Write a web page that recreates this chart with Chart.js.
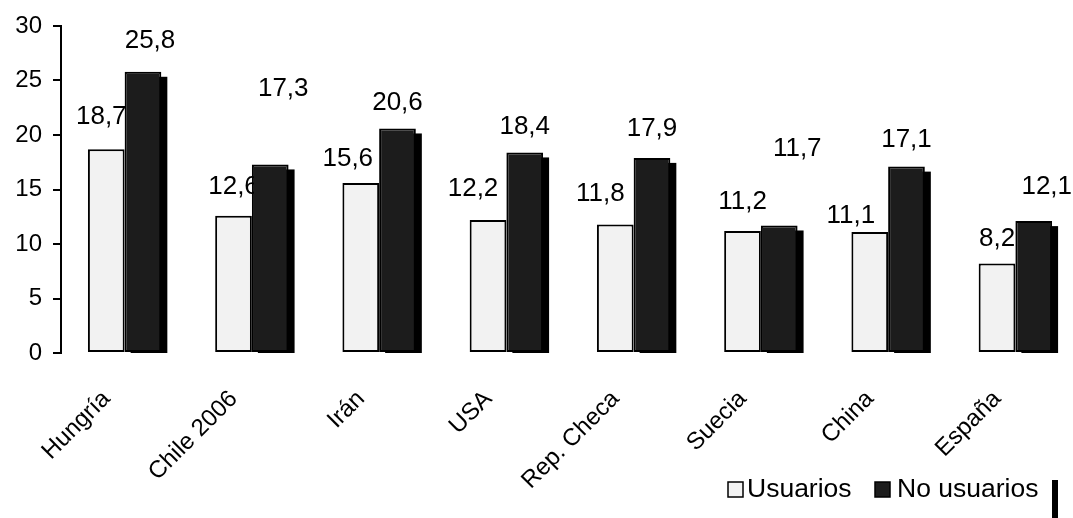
<!DOCTYPE html>
<html>
<head>
<meta charset="utf-8">
<script src="https://cdn.jsdelivr.net/npm/chart.js@4.4.1/dist/chart.umd.min.js"></script>
<style>
  html, body { margin: 0; padding: 0; background: #fff; overflow: hidden; }
  #wrap { width: 1080px; height: 518px; }
</style>
</head>
<body>
<div id="wrap"><canvas id="chart" width="1080" height="518"></canvas></div>
<script>
// data
const paises = ['Hungría', 'Chile 2006', 'Irán', 'USA', 'Rep. Checa', 'Suecia', 'China', 'España'];
const usuarios = [18.7, 12.6, 15.6, 12.2, 11.8, 11.2, 11.1, 8.2];
const noUsuarios = [25.8, 17.3, 20.6, 18.4, 17.9, 11.7, 17.1, 12.1];
const yMin = 0, yMax = 30, yStep = 5;

const FONT = '"Liberation Sans", Arial, sans-serif';

// a few labels were moved by hand in the original (datasetIndex:index -> [dx, dy])
const labelNudge = {
  '0:0': [-5, -3], '0:2': [-13, 5], '0:3': [-15, -2], '0:4': [-15, -2],
  '0:6': [-19, 13], '0:7': [0, 4],
  '1:0': [7, -2], '1:1': [13, -47], '1:2': [0, 3], '1:3': [0, 3],
  '1:5': [18, -48], '1:6': [0, 2], '1:7': [13, -5]
};

function drawLabels(chart, di) {
  const ctx = chart.ctx;
  const ds = chart.data.datasets[di];
  ctx.save();
  ctx.font = '26px ' + FONT;
  ctx.fillStyle = '#000';
  ctx.textAlign = 'center';
  ctx.textBaseline = 'middle';
  chart.getDatasetMeta(di).data.forEach((bar, i) => {
    const n = labelNudge[di + ':' + i] || [0, 0];
    const txt = ds.data[i].toFixed(1).replace('.', ',');
    ctx.fillText(txt, bar.x + n[0], bar.y - 29 + n[1]);
  });
  ctx.restore();
}

// shadow behind the dark bars + light-series labels go under the bars,
// the dark-series labels on top
const barExtras = {
  id: 'barExtras',
  beforeDatasetsDraw(chart) {
    const ctx = chart.ctx;
    ctx.save();
    ctx.fillStyle = '#000';
    chart.getDatasetMeta(1).data.forEach(bar => {
      const w = bar.width;
      ctx.fillRect(bar.x - w / 2 + 6, bar.y + 5, w, bar.base - bar.y - 4);
    });
    ctx.restore();
    drawLabels(chart, 0);
  },
  afterDatasetsDraw(chart) {
    drawLabels(chart, 1);
  }
};

// legend at the bottom right, drawn by hand to match the original spot
const legendPlugin = {
  id: 'manualLegend',
  afterDraw(chart) {
    const ctx = chart.ctx;
    const items = [
      { x: 728, gap: 19, ds: chart.data.datasets[0] },
      { x: 875, gap: 22, ds: chart.data.datasets[1] }
    ];
    ctx.save();
    ctx.font = '26.5px ' + FONT;
    ctx.textBaseline = 'alphabetic';
    ctx.textAlign = 'left';
    items.forEach(it => {
      ctx.fillStyle = it.ds.backgroundColor;
      ctx.fillRect(it.x, 482, 15, 15);
      ctx.strokeStyle = '#000';
      ctx.lineWidth = 1.5;
      ctx.strokeRect(it.x, 482, 15, 15);
      ctx.fillStyle = '#000';
      ctx.fillText(it.ds.label, it.x + it.gap, 497);
    });
    ctx.fillRect(1052, 480, 6, 38);
    ctx.restore();
  }
};

new Chart(document.getElementById('chart'), {
  type: 'bar',
  data: {
    labels: paises,
    datasets: [
      {
        label: 'Usuarios',
        data: usuarios,
        backgroundColor: '#f2f2f2',
        borderColor: '#000',
        borderWidth: 2,
        borderSkipped: false,
        barPercentage: 1.0,
        categoryPercentage: 0.577
      },
      {
        label: 'No usuarios',
        data: noUsuarios,
        backgroundColor: '#1c1c1c',
        borderColor: '#000',
        borderWidth: 2,
        borderSkipped: false,
        barPercentage: 1.0,
        categoryPercentage: 0.577
      }
    ]
  },
  options: {
    responsive: false,
    animation: false,
    layout: { padding: { top: 26, right: 1, left: 0, bottom: 0 } },
    plugins: {
      legend: { display: false },
      tooltip: { enabled: false }
    },
    scales: {
      x: {
        grid: { display: false },
        border: { display: false },
        ticks: {
          color: '#000',
          font: { family: FONT, size: 24 },
          minRotation: 45,
          maxRotation: 45,
          padding: 24,
          labelOffset: -18
        },
        afterFit(scale) { scale.height = 165; }
      },
      y: {
        min: yMin,
        max: yMax,
        ticks: {
          stepSize: yStep,
          color: '#000',
          font: { family: FONT, size: 24 },
          padding: 11
        },
        grid: {
          drawOnChartArea: false,
          color: '#000',
          lineWidth: 2,
          tickLength: 8
        },
        border: { display: true, color: '#000', width: 2 },
        afterFit(scale) { scale.width = 61; }
      }
    }
  },
  plugins: [barExtras, legendPlugin]
});
</script>
</body>
</html>
